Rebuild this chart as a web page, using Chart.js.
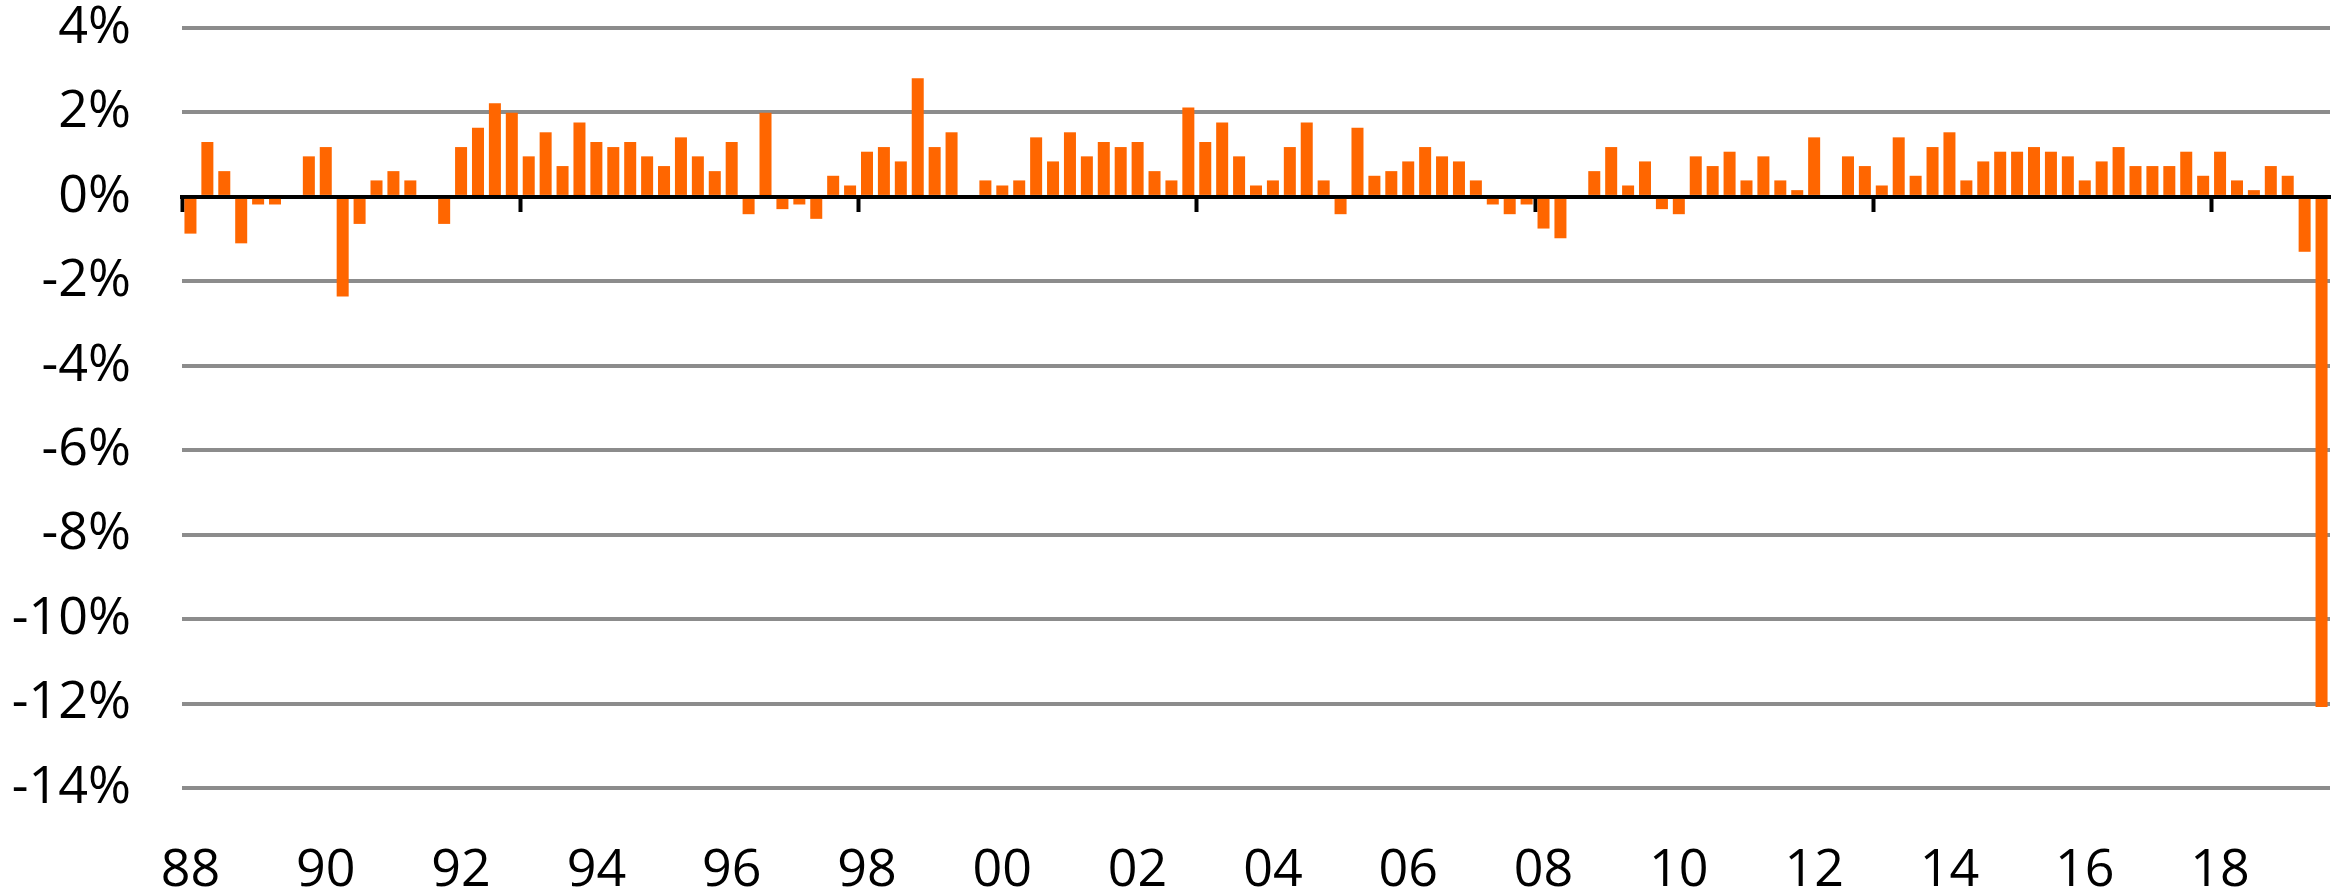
<!DOCTYPE html>
<html>
<head>
<meta charset="utf-8">
<script src="https://cdn.jsdelivr.net/npm/chart.js@4.4.1/dist/chart.umd.min.js"></script>
<style>
  html, body { margin: 0; padding: 0; background: #fff; }
  #wrap { width: 2348px; height: 888px; }
</style>
</head>
<body>
<div id="wrap"><canvas id="growth"></canvas></div>
<script>
// quarterly change, %
const growth = [
  -0.87, 1.30, 0.61, -1.10, -0.18, -0.18, 0.00, 0.96,
  1.18, -2.36, -0.64, 0.39, 0.61, 0.39, 0.00, -0.64,
  1.18, 1.64, 2.22, 1.99, 0.96, 1.53, 0.73, 1.76,
  1.30, 1.18, 1.30, 0.96, 0.73, 1.41, 0.96, 0.61,
  1.30, -0.41, 1.99, -0.29, -0.18, -0.52, 0.50, 0.27,
  1.07, 1.18, 0.84, 2.81, 1.18, 1.53, 0.00, 0.39,
  0.27, 0.39, 1.41, 0.84, 1.53, 0.96, 1.30, 1.18,
  1.30, 0.61, 0.39, 2.12, 1.30, 1.76, 0.96, 0.27,
  0.39, 1.18, 1.76, 0.39, -0.41, 1.64, 0.50, 0.61,
  0.84, 1.18, 0.96, 0.84, 0.39, -0.18, -0.41, -0.18,
  -0.75, -0.98, 0.00, 0.61, 1.18, 0.27, 0.84, -0.29,
  -0.41, 0.96, 0.73, 1.07, 0.39, 0.96, 0.39, 0.16,
  1.41, 0.00, 0.96, 0.73, 0.27, 1.41, 0.50, 1.18,
  1.53, 0.39, 0.84, 1.07, 1.07, 1.18, 1.07, 0.96,
  0.39, 0.84, 1.18, 0.73, 0.73, 0.73, 1.07, 0.50,
  1.07, 0.39, 0.16, 0.73, 0.50, -1.30, -12.08
];

const quarters = growth.map((v, i) => (1988 + Math.floor(i / 4)) + ' Q' + (i % 4 + 1));

// one label every 8 quarters
const yearTicks = ['88', '90', '92', '94', '96', '98', '00', '02',
                   '04', '06', '08', '10', '12', '14', '16', '18'];

const FONT = '"Open Sans", "Noto Sans", sans-serif';

new Chart(document.getElementById('growth'), {
  type: 'bar',
  data: {
    labels: quarters,
    datasets: [{
      data: growth,
      backgroundColor: '#ff6600',
      borderWidth: 0,
      barPercentage: 0.71,
      categoryPercentage: 1.0
    }]
  },
  options: {
    responsive: true,
    maintainAspectRatio: false,
    animation: false,
    layout: { padding: { top: 28, right: 18, bottom: 0, left: 0 } },
    plugins: { legend: { display: false }, tooltip: { enabled: false } },
    scales: {
      x: {
        type: 'category',
        offset: true,
        grid: { display: false },
        border: { display: false },
        ticks: {
          autoSkip: false,
          maxRotation: 0,
          padding: 44,
          color: '#000',
          font: { family: FONT, size: 52 },
          callback: (v, i) => (i % 8 === 0 ? yearTicks[i / 8] : '')
        },
        afterFit: s => { s.height = 100; s.paddingLeft = 0; s.paddingRight = 0; }
      },
      // black zero line with a tick mark every 20 quarters
      xt: {
        type: 'linear',
        position: { y: 0 },
        offset: false,
        bounds: 'data',
        min: 0,
        max: growth.length,
        z: 1,
        grid: { offset: false, drawOnChartArea: false, drawTicks: true, tickLength: 13, tickWidth: 4, tickColor: '#000' },
        border: { display: true, color: '#000', width: 4 },
        ticks: { display: false, stepSize: 20, includeBounds: false },
        afterBuildTicks: s => { s.ticks = s.ticks.filter(t => t.value % 20 === 0); },
        afterFit: s => { s.paddingLeft = 0; s.paddingRight = 0; }
      },
      y: {
        min: -14,
        max: 4,
        grid: { color: '#8c8c8c', lineWidth: 4, drawTicks: false },
        border: { display: false },
        ticks: {
          stepSize: 2,
          padding: 51,
          color: '#000',
          font: { family: FONT, size: 52, lineHeight: 1 },
          callback: v => v + '%'
        },
        afterFit: s => { s.width = 182; s.paddingTop = 0; s.paddingBottom = 0; }
      }
    }
  }
});
</script>
</body>
</html>
